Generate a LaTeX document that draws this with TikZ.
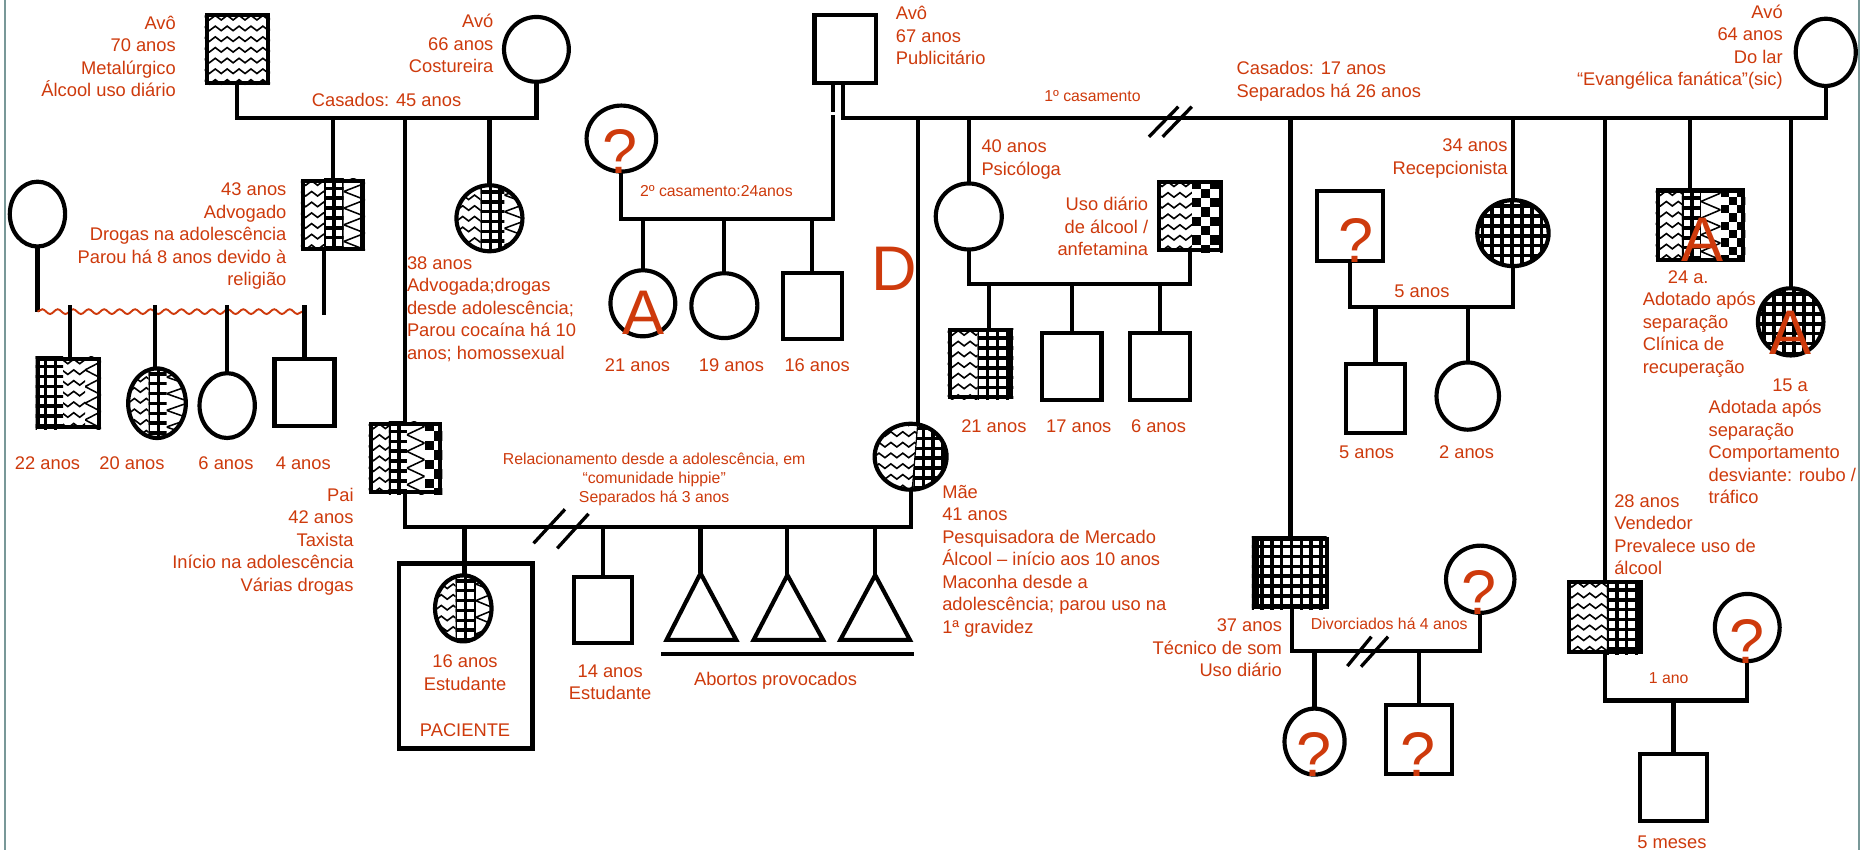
\documentclass[tikz,border=0pt]{standalone}
\usepackage{fontspec}
\setmainfont{Liberation Sans}
\usetikzlibrary{shapes.geometric,decorations.pathmorphing}
\definecolor{rd}{RGB}{206,58,12}
\definecolor{frm}{RGB}{120,152,152}
\newcommand\PZig[4]{\begin{scope}\clip (#1,#2) rectangle (#3,#4);
 \foreach \rr in {0,...,9}{\draw[zigl] (#1-1,#2+2+\rr*9) \foreach \kk in {1,...,9}{ -- ++(5,3.8) -- ++(5,-3.8)};}
 \end{scope}}
\newcommand\PGrid[4]{\begin{scope}\clip (#1,#2) rectangle (#3,#4);
 \foreach \kk in {0,...,10}{\draw[gridl] (#1+\kk*8.3,#2-5) -- (#1+\kk*8.3,#4+5); \draw[gridl] (#1-5,#2+\kk*8.3) -- (#3+5,#2+\kk*8.3);}
 \end{scope}}
\newcommand\PDiag[4]{\begin{scope}\clip (#1,#2) rectangle (#3,#4);
 \draw[diagl] (#1,#2-3) \foreach \kk in {1,...,6}{ -- ++(#3-#1,7) -- ++(#1-#3,7)};
 \end{scope}}
\newcommand\PChk[5]{\begin{scope}\clip (#1,#2) rectangle (#3,#4);
 \foreach \ii in {0,...,4}{\foreach \jj in {0,...,9}{\pgfmathtruncatemacro\pp{mod(\ii+\jj,2)}\ifnum\pp=0 \fill (#1+\ii*#5,#2+\jj*#5) rectangle ++(#5,#5);\fi}}
 \end{scope}}
\newcommand\SQ[5]{\node[sq, minimum width=#4-3.5, minimum height=#5-3.5] (#1) at (#2,#3) {};}
\newcommand\CI[5]{\node[ci, minimum width=#4-3.5, minimum height=#5-3.5] (#1) at (#2,#3) {};}
\newcommand\EC[4]{\clip (#1,#2) ellipse [x radius=#3/2-1, y radius=#4/2-1];}
\begin{document}
\begin{tikzpicture}[x=1pt,y=-1pt,
  ln/.style={line width=3.5pt},
  per/.style={draw, line width=3.5pt, inner sep=0pt, outer sep=0pt},
  sq/.style={per, rectangle},
  ci/.style={per, ellipse},
  lab/.style={text=rd, font=\fontsize{15.4}{18.9}\selectfont, inner sep=0pt},
  sml/.style={text=rd, font=\fontsize{13.3}{16}\selectfont, inner sep=0pt},
  big/.style={text=rd, font=\fontsize{53}{53}\selectfont, inner sep=0pt, anchor=base},
  zigl/.style={line width=1.35pt},
  gridl/.style={line width=3pt},
  diagl/.style={line width=1.3pt},
  sl/.style={line width=2.8pt},
  wav/.style={draw=rd, line width=1.6pt, decorate, decoration={snake, amplitude=2pt, segment length=13pt}}]
\useasboundingbox (0,0) rectangle (1568,715);
\fill[white] (0,0) rectangle (1568,715);
\draw[frm, line width=1.8pt] (4,0) -- (4,715);
\draw[frm, line width=1.8pt] (1563,0) -- (1563,715);

% ---------- patterns ----------
\PZig{172}{11}{227}{72}
\PZig{253}{150}{272.6}{211}\PGrid{272.6}{150}{289}{211}\PDiag{289}{150}{307}{211}
\PZig{310}{354.5}{327}{415.5}\PGrid{327}{354.5}{342}{415.5}\PDiag{342}{354.5}{357}{415.5}\PChk{357}{354.5}{372}{415.5}{8}
\begin{scope}\EC{411.5}{183.5}{59}{59}\PZig{380}{153}{404}{214}\PGrid{404}{153}{424}{214}\PDiag{424}{153}{443}{214}\end{scope}
\PGrid{30}{300}{53}{361}\PZig{53}{300}{71.5}{361}\PDiag{71.5}{300}{85}{361}
\begin{scope}\EC{132}{339}{52}{62}\PZig{104}{306}{125}{372}\PGrid{125}{306}{140}{372}\PDiag{140}{306}{160}{372}\end{scope}
\begin{scope}\EC{389.5}{511.5}{51}{59}\PZig{362}{480}{383}{543}\PGrid{383}{480}{400}{543}\PDiag{400}{480}{417}{543}\end{scope}
\begin{scope}\EC{765.6}{384}{64}{59}
 \begin{scope}\clip (725,345) -- (772.5,345) -- (766,423) -- (725,423) -- cycle; \PZig{730}{352}{775}{416}\end{scope}
 \begin{scope}\clip (805,345) -- (772.5,345) -- (766,423) -- (805,423) -- cycle; \PGrid{768}{352}{800}{416}\end{scope}
 \draw[line width=1pt] (772.5,345) -- (766,423);
\end{scope}
\PZig{973}{151}{1002}{212}\PChk{1002}{151}{1028}{212}{7.8}
\PZig{796.6}{276}{822}{335.5}\PGrid{822}{276}{852}{335.5}
\begin{scope}\EC{1272}{196}{63.5}{59}\PGrid{1238}{165}{1306}{228}\end{scope}
\PZig{1392}{158.4}{1414}{220}\PGrid{1414}{158.4}{1430}{220}\PDiag{1430}{158.4}{1446.5}{220}\PChk{1446.5}{158.4}{1467.4}{220}{7}
\begin{scope}\EC{1505.5}{270.6}{58.6}{60}\PGrid{1475}{239}{1537}{302}\end{scope}
\PGrid{1052.6}{451.2}{1115.3}{512.3}
\PZig{1317.5}{487.7}{1351}{550}\PGrid{1351}{487.7}{1381}{550}

% ---------- persons ----------
\SQ{pgf}{199.5}{41.25}{55}{60.5}
\CI{pgm}{451}{41.5}{58}{58}
\SQ{c43}{279.75}{180.75}{53.5}{60.5}
\SQ{pai}{341}{385}{62}{61}
\CI{c38}{411.5}{183.5}{59}{59}
\CI{w43}{31.5}{180}{50}{58}
\SQ{g22}{57.5}{330.5}{55}{61}
\CI{g20}{132}{339}{52}{62}
\CI{g6}{191}{341}{50}{58}
\SQ{g4}{256}{330}{54}{60}
\CI{pat}{389.5}{511.5}{51}{59}
\SQ{pac}{391.5}{551.5}{116}{159}
\SQ{s14}{506.75}{512.75}{52.5}{58.5}
\CI{mae}{765.6}{384}{64}{59}
\SQ{mgf}{710.5}{41.25}{55}{60.5}
\CI{q1}{522.4}{116.5}{62}{59}
\CI{a21}{540.5}{255}{58}{59}
\CI{f19}{609}{257}{59}{58}
\SQ{s16}{683}{257.3}{53}{59.4}
\CI{mgm}{1535}{44}{54}{60}
\CI{psic}{814.5}{182}{59}{59}
\SQ{hps}{1000.5}{181.5}{55}{61}
\SQ{p21}{824.2}{305.75}{55.2}{59.5}
\SQ{p17}{901}{307.85}{53.7}{59.7}
\SQ{p6}{975}{308}{54}{60}
\SQ{qsq}{1135}{190.2}{59.5}{62.4}
\CI{r34}{1272}{196}{63.5}{59}
\SQ{k5}{1156.5}{334.85}{53.6}{61.7}
\CI{k2}{1234}{333}{56}{60}
\SQ{a24}{1429.7}{189.2}{75.4}{61.6}
\CI{a15}{1505.5}{270.6}{58.6}{60}
\SQ{s37}{1086}{481.75}{62.7}{61}
\CI{w37}{1244.5}{487}{61}{60}
\CI{c37a}{1105.2}{623.5}{54}{59}
\SQ{c37b}{1192.7}{621.65}{59}{61.7}
\SQ{s28}{1349.3}{518.85}{63.3}{62.3}
\CI{w28}{1469}{527.6}{58}{60}
\SQ{b5m}{1407}{662.15}{59.4}{60.3}
\coordinate (t1) at (589,482);
\coordinate (t2) at (662,483.5);
\coordinate (t3) at (735.8,483.5);
\draw[ln, line join=miter] (t1) -- (560.4,538) -- (619,538) -- cycle;
\draw[ln, line join=miter] (t2) -- (633.6,538) -- (692,538) -- cycle;
\draw[ln, line join=miter] (t3) -- (706.5,538) -- (765,538) -- cycle;
\draw[ln] (556,550) -- (768.5,550);

% ---------- levels ----------
\coordinate (L1) at (0,99.5);
\coordinate (L2) at (0,443);
\coordinate (L3) at (0,184.4);
\coordinate (L5) at (0,238.8);
\coordinate (L6) at (0,258.4);
\coordinate (L7) at (0,547);
\coordinate (L8) at (0,589);
\coordinate (WV) at (0,262);
\coordinate (WB) at (0,265);
\coordinate (WT) at (0,256.5);
\coordinate (G1) at (0,94);
\coordinate (G2) at (0,97);

% ---------- connectors ----------
\draw[ln] (pgf.south) |- (pgm.south |- L1) -- (pgm.south);
\draw[ln] (c43.north |- L1) -- (c43.north);
\draw[ln] ([xshift=-0.5]pai.north |- L1) -- ([xshift=-0.5]pai.north);
\draw[ln] (c38.north |- L1) -- (c38.north);
\draw[ln] (w43.south) -- (w43.south |- WV);
\draw[ln] ([xshift=-7]c43.south) -- ([xshift=-7]c43.south |- WB);
\draw[wav] (w43.south |- WV) -- ([xshift=2]g4.north |- WV);
\draw[ln] ([xshift=1.5]g22.north |- WT) -- ([xshift=1.5]g22.north);
\draw[ln] ([xshift=-2]g20.north |- WT) -- ([xshift=-2]g20.north);
\draw[ln] (g6.north |- WT) -- (g6.north);
\draw[ln] (g4.north |- WT) -- (g4.north);
\draw[ln] ([xshift=-0.5]pai.south) |- (mae.south |- L2) -- (mae.south);
\draw[ln] ([xshift=1]pat.north |- L2) -- ([xshift=1]pat.north);
\draw[ln] (s14.north |- L2) -- (s14.north);
\draw[ln] (t1 |- L2) -- (t1);
\draw[ln] (t2 |- L2) -- (t2);
\draw[ln] (t3 |- L2) -- (t3);
\draw[sl] (448.6,456.8) -- (475,428.2);
\draw[sl] (468.5,461) -- (494.8,432);
\draw[ln] ([xshift=-10.5]mgf.south) -- ([xshift=-10.5]mgf.south |- G1);
\draw[ln] ([xshift=-10.5]mgf.south |- G2) |- (q1.south |- L3) -- (q1.south);
\draw[ln] ([xshift=-1.5]mgf.south) |- (mgm.south |- L1) -- (mgm.south);
\draw[ln] (a21.north |- L3) -- (a21.north);
\draw[ln] (f19.north |- L3) -- (f19.north);
\draw[ln] (s16.north |- L3) -- (s16.north);
\draw[ln] ([xshift=6.5]mae.north |- L1) -- ([xshift=6.5]mae.north);
\draw[ln] (psic.north |- L1) -- (psic.north);
\draw[ln] ([xshift=-1]s37.north |- L1) -- ([xshift=-1]s37.north);
\draw[ln] (r34.north |- L1) -- (r34.north);
\draw[ln] (s28.north |- L1) -- (s28.north);
\draw[ln] ([xshift=-9]a24.north |- L1) -- ([xshift=-9]a24.north);
\draw[ln] (a15.north |- L1) -- (a15.north);
\draw[sl] (966,115) -- (990.7,89.7);
\draw[sl] (977.5,115) -- (1002,89.7);
\draw[ln] (psic.south) |- (hps.south |- L5) -- (hps.south);
\draw[ln] ([xshift=7]p21.north |- L5) -- ([xshift=7]p21.north);
\draw[ln] (p17.north |- L5) -- (p17.north);
\draw[ln] (p6.north |- L5) -- (p6.north);
\draw[ln] (qsq.south) |- (r34.south |- L6) -- (r34.south);
\draw[ln] (k5.north |- L6) -- (k5.north);
\draw[ln] (k2.north |- L6) -- (k2.north);
\draw[ln] (s37.south) |- (w37.south |- L7) -- (w37.south);
\draw[sl] (1132.8,560) -- (1153,535.3);
\draw[sl] (1144.3,560.5) -- (1167,535.3);
\draw[ln] (c37a.north |- L7) -- (c37a.north);
\draw[ln] (c37b.north |- L7) -- (c37b.north);
\draw[ln] (s28.south) |- (w28.south |- L8) -- (w28.south);
\draw[ln] (b5m.north |- L8) -- (b5m.north);

% ---------- big letters ----------
\node[big] (qa) at (521.5,146) {?};
\node[big] (qb) at (1139.7,221) {?};
\node[big] (qc) at (1243.5,517) {?};
\node[big] (qd) at (1105,653) {?};
\node[big] (qe) at (1192.5,652.5) {?};
\node[big] (qf) at (1469,557.7) {?};
\node[big] (la) at (541,281) {A};
\node[big] (lb) at (1431.5,220) {A};
\node[big] (lc) at (1505,298) {A};
\node[big] (ld) at (752,244) {D};

% ---------- texts (base = baseline of last line) ----------
\node[lab, align=right, anchor=base east] (tpgf) at (148,81.2) {Avô\\70 anos\\Metalúrgico\\Álcool uso diário};
\node[lab, align=right, anchor=base east] (tpgm) at (415,61.3) {Avó\\66 anos\\Costureira};
\node[lab, anchor=base] (tc45) at (325,89.5) {Casados: 45 anos};
\node[lab, align=right, anchor=base east] (t43) at (241,240.1) {43 anos\\Advogado\\Drogas na adolescência\\Parou há 8 anos devido à\\religião};
\node[lab, align=left, anchor=base west] (t38) at (342,302.1) {38 anos\\Advogada;drogas\\desde adolescência;\\Parou cocaína há 10\\anos; homossexual};
\node[lab, anchor=base] (l22) at (40,395) {22 anos};
\node[lab, anchor=base] (l20) at (111,395) {20 anos};
\node[lab, anchor=base] (l6) at (190,395) {6 anos};
\node[lab, anchor=base] (l4) at (255,395) {4 anos};
\node[lab, align=right, anchor=base east] (tpai) at (297.5,497.1) {Pai\\42 anos\\Taxista\\Início na adolescência\\Várias drogas};
\node[sml, align=center, anchor=base] (trel) at (550,422.5) {Relacionamento desde a adolescência, em\\“comunidade hippie”\\Separados há 3 anos};
\node[lab, align=center, anchor=base] (tpat) at (391,580.4) {16 anos\\Estudante};
\node[lab, anchor=base] (tpac) at (391,619.5) {PACIENTE};
\node[lab, align=center, anchor=base] (t14) at (513,588.4) {14 anos\\Estudante};
\node[lab, anchor=base] (tab) at (652,576.5) {Abortos provocados};
\node[lab, align=left, anchor=base west] (tmae) at (792,532.4) {Mãe\\41 anos\\Pesquisadora de Mercado\\Álcool – início aos 10 anos\\Maconha desde a\\adolescência; parou uso na\\1ª gravidez};
\node[lab, align=left, anchor=base west] (tmgf) at (753,54.3) {Avô\\67 anos\\Publicitário};
\node[sml, anchor=base] (t2c) at (602.3,165) {2º casamento:24anos};
\node[lab, anchor=base] (l21) at (536,312.5) {21 anos};
\node[lab, anchor=base] (l19) at (615,312.5) {19 anos};
\node[lab, anchor=base] (l16) at (687,312.5) {16 anos};
\node[sml, anchor=base] (t1c) at (918.5,85.5) {1º casamento};
\node[lab, align=left, anchor=base west] (tc17) at (1039.5,81.9) {Casados: 17 anos\\Separados há 26 anos};
\node[lab, align=left, anchor=base west] (t40) at (825,147.2) {40 anos\\Psicóloga};
\node[lab, align=right, anchor=base east] (tuso) at (965.5,214.8) {Uso diário\\de álcool /\\anfetamina};
\node[lab, anchor=base] (m21) at (835.6,363.5) {21 anos};
\node[lab, anchor=base] (m17) at (907,363.5) {17 anos};
\node[lab, anchor=base] (m6) at (974,363.5) {6 anos};
\node[lab, align=right, anchor=base east] (tmgm) at (1499,72.2) {Avó\\64 anos\\Do lar\\“Evangélica fanática”(sic)};
\node[lab, align=right, anchor=base east] (t34) at (1267.7,146.4) {34 anos\\Recepcionista};
\node[lab, anchor=base] (t5a) at (1195.5,250) {5 anos};
\node[lab, anchor=base] (n5) at (1149,385.5) {5 anos};
\node[lab, anchor=base] (n2) at (1233,385.5) {2 anos};
\node[lab, align=left, anchor=base west] (t24) at (1381,313.6) {\hspace*{21pt}24 a.\\Adotado após\\separação\\Clínica de\\recuperação};
\node[lab, anchor=base] (t15) at (1505,329) {15 a};
\node[lab, align=left, anchor=base west] (t15b) at (1436.3,423.6) {Adotada após\\separação\\Comportamento\\desviante: roubo /\\tráfico};
\node[lab, align=left, anchor=base west] (t28) at (1357,483.2) {28 anos\\Vendedor\\Prevalece uso de\\álcool};
\node[lab, align=right, anchor=base east] (t37) at (1078,568.8) {37 anos\\Técnico de som\\Uso diário};
\node[sml, anchor=base] (tdiv) at (1168,529.5) {Divorciados há 4 anos};
\node[sml, anchor=base] (t1a) at (1403,574.5) {1 ano};
\node[lab, anchor=base] (t5m) at (1405.6,713) {5 meses};
\end{tikzpicture}
\end{document}
